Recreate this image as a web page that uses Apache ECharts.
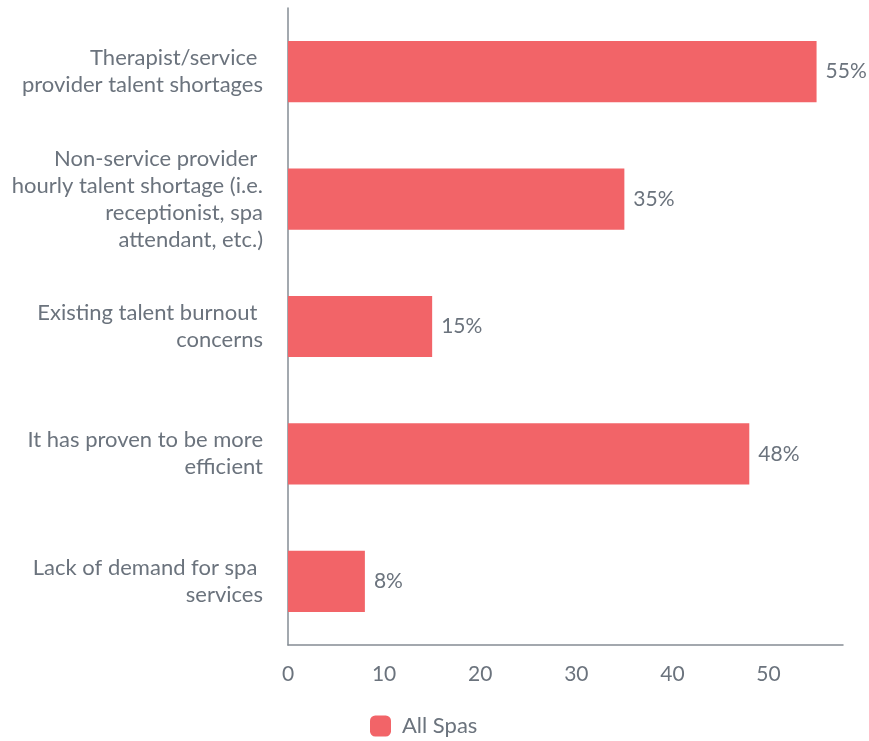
<!DOCTYPE html>
<html>
<head>
<meta charset="utf-8">
<script src="https://cdn.jsdelivr.net/npm/echarts@6/dist/echarts.min.js"></script>
<style>
html,body{margin:0;padding:0;background:#fff;}
#chart{width:869px;height:741px;}
</style>
</head>
<body>
<div id="chart"></div>
<script>
// Reasons for staffing changes, share of spas (%)
const categories = [
  'Therapist/service \nprovider talent shortages',
  'Non-service provider \nhourly talent shortage (i.e.\nreceptionist, spa\nattendant, etc.)',
  'Existing talent burnout \nconcerns',
  'It has proven to be more\nefficient',
  'Lack of demand for spa \nservices'
];
const allSpas = [55, 35, 15, 48, 8];
const xTicks = [0, 10, 20, 30, 40, 50];

const textColor = '#6b737d';
const axisColor = '#858c94';
const barColor = '#f26468';
const font = 'Lato, "Noto Sans", sans-serif';

const chart = echarts.init(document.getElementById('chart'));
chart.setOption({
  animation: false,
  textStyle: { fontFamily: font },
  grid: { left: 288, right: 26, top: 8, bottom: 96, containLabel: false },
  legend: {
    data: ['All Spas'],
    left: 365,
    top: 710,
    itemWidth: 21,
    itemHeight: 21,
    icon: 'roundRect',
    textStyle: { color: textColor, fontSize: 22, fontFamily: font, padding: [0, 0, 0, 6] }
  },
  xAxis: {
    type: 'value',
    min: 0,
    max: 57.75,
    interval: 10,
    splitLine: { show: false },
    axisTick: { show: false },
    axisLine: { show: true, lineStyle: { color: axisColor, width: 1.5 } },
    axisLabel: {
      color: textColor, fontSize: 21, fontFamily: font, margin: 19,
      showMaxLabel: false,
      formatter: v => (xTicks.indexOf(v) >= 0 ? String(v) : '')
    }
  },
  yAxis: {
    type: 'category',
    inverse: true,
    data: categories,
    axisTick: { show: false },
    axisLine: { show: true, lineStyle: { color: axisColor, width: 1.5 } },
    axisLabel: {
      color: textColor, fontSize: 22, fontFamily: font, margin: 25,
      lineHeight: 27, align: 'right', padding: [5, 0, 0, 0]
    }
  },
  series: [{
    name: 'All Spas',
    type: 'bar',
    data: allSpas,
    barWidth: '48%',
    itemStyle: { color: barColor },
    label: {
      show: true,
      position: 'right',
      distance: 9,
      color: textColor,
      fontSize: 21,
      fontFamily: font,
      padding: [3, 0, 0, 0],
      formatter: p => p.value + '%'
    }
  }]
});
</script>
</body>
</html>
